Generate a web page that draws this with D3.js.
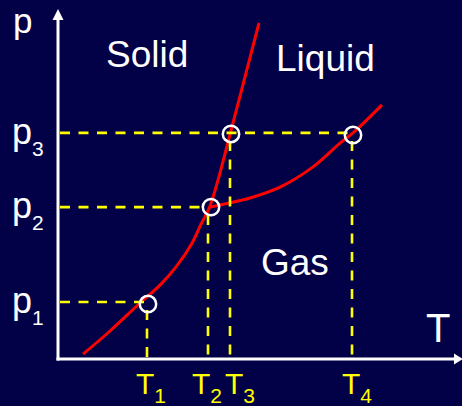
<!DOCTYPE html>
<html>
<head>
<meta charset="utf-8">
<script src="https://cdn.jsdelivr.net/npm/d3@7"></script>
<style>
  html, body { margin: 0; padding: 0; background: #020046; }
  svg { display: block; }
  text { font-family: "Liberation Sans", Arial, sans-serif; }
</style>
</head>
<body>
<svg id="chart" width="462" height="406"></svg>
<script>
// ---- data (schematic units, 0..100) ----
const tickT = [22.25, 37.5, 43, 73.5];          // T1..T4
const tickTSub = ["1", "2", "3", "4"];
const tickP = [16.3, 43.4, 64.6];               // p1..p3
const tickPSub = ["1", "2", "3"];

// sublimation + melting curve
const solidCurveT = [6.25, 13, 20.5, 25.5, 29.5, 33.5, 35.8, 37.9, 40, 43.1, 50.25];
const solidCurveP = [1.4, 8.0, 16, 21.1, 26.3, 33.1, 38.6, 43.4, 51.1, 64.6, 96];

// vaporization curve
const vaporCurveT = [38.0, 40.5, 48, 55.5, 63.75, 70.5, 73.75, 81];
const vaporCurveP = [43.4, 44, 46, 49.1, 54.9, 61.7, 64.6, 72.6];

// marked points
const circleT = [22.5, 38.25, 43.25, 73.75];
const circleP = [15.7, 43.4, 64.3, 64];

// dashed guides: horizontal (p index -> T index), vertical (T index -> p index)
const hGuideP = [0, 1, 2];
const hGuideT = [0, 1, 3];
const vGuideT = [0, 1, 2, 3];
const vGuideP = [0, 1, 2, 2];

const regionNames = ["Solid", "Liquid", "Gas"];
const regionT = [12, 54.5, 50.75];
const regionP = [83.5, 82.3, 24];

// ---- layout ----
const W = 462, H = 406;
const x = d3.scaleLinear().domain([0, 100]).range([58, 458]);
const y = d3.scaleLinear().domain([0, 100]).range([359, 9]);
const tLabelDx = [-11, -16, -5, -10];

const svg = d3.select("#chart");
svg.append("rect").attr("width", W).attr("height", H).attr("fill", "#020046");

const line = d3.line().x(d => x(d[0])).y(d => y(d[1])).curve(d3.curveCatmullRom.alpha(0.5));

// red curves
svg.append("path")
  .datum(solidCurveT.map((t, i) => [t, solidCurveP[i]]))
  .attr("d", line).attr("fill", "none").attr("stroke", "#ff0000").attr("stroke-width", 3);
svg.append("path")
  .datum(vaporCurveT.map((t, i) => [t, vaporCurveP[i]]))
  .attr("d", line).attr("fill", "none").attr("stroke", "#ff0000").attr("stroke-width", 3);

// yellow dashed guides
const dash = "10,8.5";
hGuideP.forEach((pi, k) => {
  svg.append("line")
    .attr("x1", x(0) + 2).attr("x2", x(tickT[hGuideT[k]]))
    .attr("y1", y(tickP[pi])).attr("y2", y(tickP[pi]))
    .attr("stroke", "#ffff00").attr("stroke-width", 2.6).attr("stroke-dasharray", dash);
});
vGuideT.forEach((ti, k) => {
  svg.append("line")
    .attr("x1", x(tickT[ti])).attr("x2", x(tickT[ti]))
    .attr("y1", y(tickP[vGuideP[k]])).attr("y2", y(0) - 2)
    .attr("stroke", "#ffff00").attr("stroke-width", 2.6).attr("stroke-dasharray", dash)
    .attr("stroke-dashoffset", -8);
});

// white circles
svg.selectAll("circle.pt")
  .data(circleT.map((t, i) => [t, circleP[i]]))
  .enter().append("circle")
  .attr("cx", d => x(d[0])).attr("cy", d => y(d[1])).attr("r", 8.2)
  .attr("fill", "none").attr("stroke", "#ffffff").attr("stroke-width", 2.5);

// axes with arrows
svg.append("line").attr("x1", x(0)).attr("x2", x(0)).attr("y1", y(0) + 1.5).attr("y2", 18)
  .attr("stroke", "#fff").attr("stroke-width", 3);
svg.append("path").attr("d", `M${x(0)},9 L${x(0) - 5.5},20 L${x(0) + 5.5},20 Z`).attr("fill", "#fff");
svg.append("line").attr("x1", x(0) - 1.5).attr("x2", 455).attr("y1", y(0)).attr("y2", y(0))
  .attr("stroke", "#fff").attr("stroke-width", 3);
svg.append("path").attr("d", `M463,${y(0)} L454,${y(0) - 5.5} L454,${y(0) + 5.5} Z`).attr("fill", "#fff");

// axis titles
svg.append("text").attr("x", 13).attr("y", 33).attr("font-size", 35).attr("fill", "#fff").text("p");
svg.append("text").attr("x", 426).attr("y", 342).attr("font-size", 40).attr("fill", "#fff").text("T");

// region labels
regionNames.forEach((n, i) => {
  svg.append("text").attr("x", x(regionT[i])).attr("y", y(regionP[i]))
    .attr("font-size", 37).attr("fill", "#fff").text(n);
});

// p tick labels
tickP.forEach((p, i) => {
  const t = svg.append("text").attr("x", 12).attr("y", y(p) + 11).attr("fill", "#fff");
  t.append("tspan").attr("font-size", 36).text("p");
  t.append("tspan").attr("font-size", 21).attr("dy", 12).text(tickPSub[i]);
});

// T tick labels
tickT.forEach((tv, i) => {
  const t = svg.append("text").attr("x", x(tv) + tLabelDx[i]).attr("y", 394).attr("fill", "#ffff00");
  t.append("tspan").attr("font-size", 30).text("T");
  t.append("tspan").attr("font-size", 21).attr("dy", 9).text(tickTSub[i]);
});
</script>
</body>
</html>
